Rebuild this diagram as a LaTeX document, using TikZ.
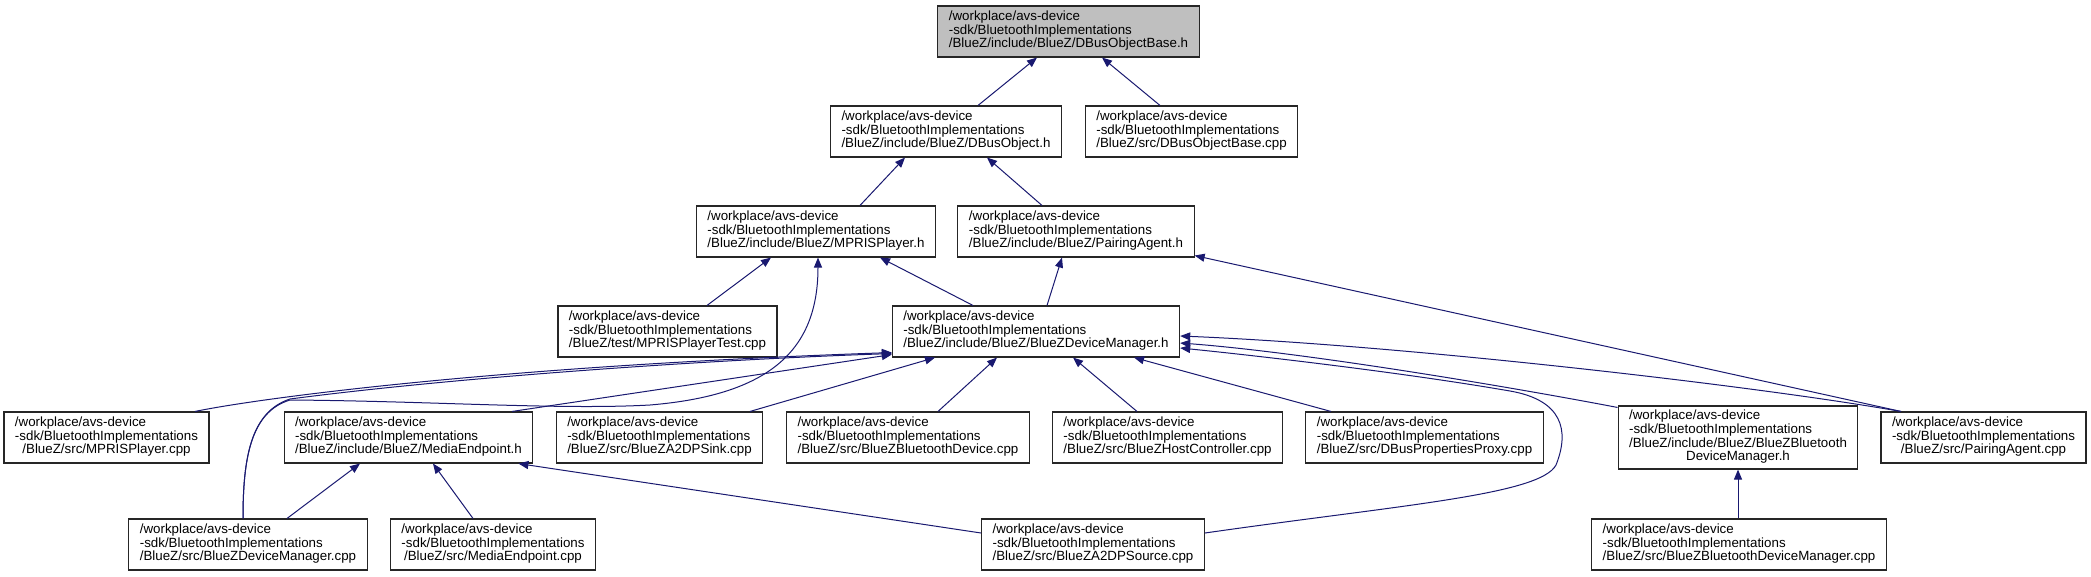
\documentclass[tikz,border=0pt]{standalone}
\usepackage{fontspec}
\setmainfont{Liberation Sans}
\usetikzlibrary{arrows.meta,calc}
\definecolor{edgeblue}{RGB}{25,25,112}
\definecolor{rootgray}{RGB}{191,191,191}
\newcommand{\labthree}[3]{\begin{tabular}{@{}l@{}}#1\\#2\\\multicolumn{1}{@{}c@{}}{#3}\end{tabular}}
\newcommand{\labfour}[4]{\begin{tabular}{@{}l@{}}#1\\#2\\#3\\\multicolumn{1}{@{}c@{}}{#4}\end{tabular}}
\newcommand{\wppath}{/workplace/avs-device}
\newcommand{\sdkpath}{-sdk/BluetoothImplementations}
\begin{document}
\begin{tikzpicture}[x=1pt,y=-1pt,
  box/.style={draw=black!85, line width=1.1pt, fill=white, inner xsep=11pt, inner ysep=0pt,
    minimum height=51pt, font=\fontsize{13.33}{13.33}\selectfont, anchor=center},
  edge/.style={draw=edgeblue, line width=1pt, -{Triangle[length=10pt,width=8pt]}}]
\useasboundingbox (0,0) rectangle (2091,576);
\fill[white] (0,0) rectangle (2091,576);
% row 0
\node[box, fill=rootgray] (N0) at (1068.5,31.5) {\labthree{\wppath}{\sdkpath}{/BlueZ/include/BlueZ/DBusObjectBase.h}};
% row 1
\node[box] (N1) at (946,131.5) {\labthree{\wppath}{\sdkpath}{/BlueZ/include/BlueZ/DBusObject.h}};
\node[box] (N2) at (1191.5,131.5) {\labthree{\wppath}{\sdkpath}{/BlueZ/src/DBusObjectBase.cpp}};
% row 2
\node[box] (N3) at (816,231.5) {\labthree{\wppath}{\sdkpath}{/BlueZ/include/BlueZ/MPRISPlayer.h}};
\node[box] (N4) at (1076,231.5) {\labthree{\wppath}{\sdkpath}{/BlueZ/include/BlueZ/PairingAgent.h}};
% row 3
\node[box] (N5) at (667.5,331.5) {\labthree{\wppath}{\sdkpath}{/BlueZ/test/MPRISPlayerTest.cpp}};
\node[box] (N6) at (1036,331.5) {\labthree{\wppath}{\sdkpath}{/BlueZ/include/BlueZ/BlueZDeviceManager.h}};
% row 4
\node[box] (N7) at (106.5,437.5) {\labthree{\wppath}{\sdkpath}{/BlueZ/src/MPRISPlayer.cpp}};
\node[box] (N8) at (408.5,437.5) {\labthree{\wppath}{\sdkpath}{/BlueZ/include/BlueZ/MediaEndpoint.h}};
\node[box] (N9) at (659.5,437.5) {\labthree{\wppath}{\sdkpath}{/BlueZ/src/BlueZA2DPSink.cpp}};
\node[box] (N10) at (908,437.5) {\labthree{\wppath}{\sdkpath}{/BlueZ/src/BlueZBluetoothDevice.cpp}};
\node[box] (N11) at (1167.5,437.5) {\labthree{\wppath}{\sdkpath}{/BlueZ/src/BlueZHostController.cpp}};
\node[box] (N12) at (1424.5,437.5) {\labthree{\wppath}{\sdkpath}{/BlueZ/src/DBusPropertiesProxy.cpp}};
\node[box, minimum height=63pt] (N13) at (1738,437.5) {\labfour{\wppath}{\sdkpath}{/BlueZ/include/BlueZ/BlueZBluetooth}{DeviceManager.h}};
\node[box] (N14) at (1983.5,437.5) {\labthree{\wppath}{\sdkpath}{/BlueZ/src/PairingAgent.cpp}};
% row 5
\node[box] (N15) at (248,544.5) {\labthree{\wppath}{\sdkpath}{/BlueZ/src/BlueZDeviceManager.cpp}};
\node[box] (N16) at (493,544.5) {\labthree{\wppath}{\sdkpath}{/BlueZ/src/MediaEndpoint.cpp}};
\node[box] (N17) at (1093,544.5) {\labthree{\wppath}{\sdkpath}{/BlueZ/src/BlueZA2DPSource.cpp}};
\node[box] (N18) at (1739,544.5) {\labthree{\wppath}{\sdkpath}{/BlueZ/src/BlueZBluetoothDeviceManager.cpp}};
% edges
\draw[edge] ($(N1.north)+(32,0)$) -- ($(N0.south)+(-31.5,0)$);
\draw[edge] ($(N2.north)+(-31.5,0)$) -- ($(N0.south)+(33.5,0)$);
\draw[edge] ($(N3.north)+(44,0)$) -- ($(N1.south)+(-41,0)$);
\draw[edge] ($(N4.north)+(-34,0)$) -- ($(N1.south)+(41,0)$);
\draw[edge] ($(N5.north)+(39.5,0)$) -- ($(N3.south)+(-45,0)$);
\draw[edge] ($(N6.north)+(-63,0)$) -- ($(N3.south)+(64,0)$);
\draw[edge] ($(N6.north)+(11,0)$) -- ($(N4.south)+(-14,0)$);
% MPRISPlayer.cpp -> BlueZDeviceManager.h
\draw[edge] ($(N7.north)+(88.5,0)$) .. controls (260,398) and (500,366) .. ($(N6.south west)+(0,-5)$);
% BlueZDeviceManager.cpp -> BlueZDeviceManager.h
\draw[edge] ($(N15.north)+(-5,0)$) .. controls (243,460) and (250,412) .. (290,399)
  .. controls (450,378) and (700,360) .. ($(N6.south west)+(0,-4)$);
% BlueZDeviceManager.cpp -> MPRISPlayer.h
\draw[edge] ($(N15.north)+(-5,0)$) .. controls (243,460) and (250,412) .. (290,400)
  .. controls (430,401) and (560,410) .. (650,405)
  .. controls (770,395) and (818,350) .. ($(N3.south)+(2,0)$);
% MediaEndpoint.h -> BlueZDeviceManager.h
\draw[edge] ($(N8.north)+(103.5,0)$) -- ($(N6.south west)+(0,-3)$);
\draw[edge] ($(N9.north)+(90.5,0)$) -- ($(N6.south)+(-101,0)$);
\draw[edge] ($(N10.north)+(30,0)$) -- ($(N6.south)+(-39,0)$);
\draw[edge] ($(N11.north)+(-30.5,0)$) -- ($(N6.south)+(37,0)$);
\draw[edge] ($(N12.north)+(-93.5,0)$) -- ($(N6.south)+(98,0)$);
% BlueZBluetoothDeviceManager.h -> BlueZDeviceManager.h
\draw[edge] ($(N13.north west)+(0,2)$) .. controls (1500,385) and (1300,352) .. ($(N6.east)+(0,11.5)$);
% PairingAgent.cpp -> BlueZDeviceManager.h
\draw[edge] ($(N14.north)+(-82.5,0)$) .. controls (1750,385) and (1400,345) .. ($(N6.east)+(0,4.5)$);
% BlueZA2DPSource.cpp -> BlueZDeviceManager.h
\draw[edge] ($(N17.east)+(0,-11.5)$) .. controls (1400,505) and (1540,495) .. (1556,465)
  .. controls (1570,430) and (1562,400) .. (1510,391)
  .. controls (1400,372) and (1250,355) .. ($(N6.east)+(0,16.5)$);
% PairingAgent.cpp -> PairingAgent.h
\draw[edge] ($(N14.north)+(-82.5,0)$) -- ($(N4.south east)+(0,-2)$);
% to MediaEndpoint.h
\draw[edge] ($(N15.north)+(39,0)$) -- ($(N8.south)+(-48.5,0)$);
\draw[edge] ($(N16.north)+(-20,0)$) -- ($(N8.south)+(24.5,0)$);
\draw[edge] ($(N17.west)+(0,-11.5)$) -- ($(N8.south east)+(-15,0)$);
% BlueZBluetoothDeviceManager.cpp -> .h
\draw[edge] (N18.north -| N13.south) -- (N13.south);
\end{tikzpicture}
\end{document}
